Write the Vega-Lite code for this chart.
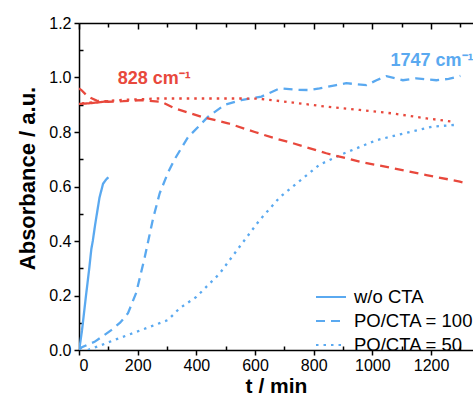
{
  "$schema": "https://vega.github.io/schema/vega-lite/v6.json",
  "width": 394,
  "height": 327,
  "autosize": "none",
  "padding": {"left": 79, "top": 23, "right": 0, "bottom": 46},
  "background": "white",
  "config": {
    "view": {"stroke": null},
    "font": "Liberation Sans",
    "axis": {"domainColor": "black", "tickColor": "black", "domainWidth": 1.5, "tickWidth": 1.5, "grid": false, "labelColor": "black", "titleColor": "black", "labelFont": "Liberation Sans", "titleFont": "Liberation Sans"}
  },
  "datasets": {
    "curves": [
      {"s": "w/o CTA", "b": "1747", "t": 0, "a": 0.0},
      {"s": "w/o CTA", "b": "1747", "t": 2, "a": 0.01},
      {"s": "w/o CTA", "b": "1747", "t": 10, "a": 0.07},
      {"s": "w/o CTA", "b": "1747", "t": 25, "a": 0.21},
      {"s": "w/o CTA", "b": "1747", "t": 35, "a": 0.30},
      {"s": "w/o CTA", "b": "1747", "t": 42, "a": 0.37},
      {"s": "w/o CTA", "b": "1747", "t": 47, "a": 0.40},
      {"s": "w/o CTA", "b": "1747", "t": 55, "a": 0.46},
      {"s": "w/o CTA", "b": "1747", "t": 70, "a": 0.56},
      {"s": "w/o CTA", "b": "1747", "t": 82, "a": 0.61},
      {"s": "w/o CTA", "b": "1747", "t": 92, "a": 0.625},
      {"s": "w/o CTA", "b": "1747", "t": 100, "a": 0.634},
      {"s": "PO/CTA = 100", "b": "1747", "t": 0, "a": 0.0},
      {"s": "PO/CTA = 100", "b": "1747", "t": 10, "a": 0.01},
      {"s": "PO/CTA = 100", "b": "1747", "t": 30, "a": 0.02},
      {"s": "PO/CTA = 100", "b": "1747", "t": 53, "a": 0.03},
      {"s": "PO/CTA = 100", "b": "1747", "t": 80, "a": 0.05},
      {"s": "PO/CTA = 100", "b": "1747", "t": 110, "a": 0.073},
      {"s": "PO/CTA = 100", "b": "1747", "t": 140, "a": 0.10},
      {"s": "PO/CTA = 100", "b": "1747", "t": 167, "a": 0.135},
      {"s": "PO/CTA = 100", "b": "1747", "t": 195, "a": 0.21},
      {"s": "PO/CTA = 100", "b": "1747", "t": 224, "a": 0.34},
      {"s": "PO/CTA = 100", "b": "1747", "t": 252, "a": 0.48},
      {"s": "PO/CTA = 100", "b": "1747", "t": 275, "a": 0.575},
      {"s": "PO/CTA = 100", "b": "1747", "t": 303, "a": 0.65},
      {"s": "PO/CTA = 100", "b": "1747", "t": 326, "a": 0.70},
      {"s": "PO/CTA = 100", "b": "1747", "t": 371, "a": 0.78},
      {"s": "PO/CTA = 100", "b": "1747", "t": 440, "a": 0.856},
      {"s": "PO/CTA = 100", "b": "1747", "t": 497, "a": 0.90},
      {"s": "PO/CTA = 100", "b": "1747", "t": 553, "a": 0.917},
      {"s": "PO/CTA = 100", "b": "1747", "t": 622, "a": 0.93},
      {"s": "PO/CTA = 100", "b": "1747", "t": 684, "a": 0.96},
      {"s": "PO/CTA = 100", "b": "1747", "t": 740, "a": 0.955},
      {"s": "PO/CTA = 100", "b": "1747", "t": 786, "a": 0.954},
      {"s": "PO/CTA = 100", "b": "1747", "t": 820, "a": 0.96},
      {"s": "PO/CTA = 100", "b": "1747", "t": 877, "a": 0.972},
      {"s": "PO/CTA = 100", "b": "1747", "t": 911, "a": 0.979},
      {"s": "PO/CTA = 100", "b": "1747", "t": 980, "a": 0.972},
      {"s": "PO/CTA = 100", "b": "1747", "t": 1014, "a": 0.99},
      {"s": "PO/CTA = 100", "b": "1747", "t": 1048, "a": 1.005},
      {"s": "PO/CTA = 100", "b": "1747", "t": 1104, "a": 0.99},
      {"s": "PO/CTA = 100", "b": "1747", "t": 1150, "a": 0.997},
      {"s": "PO/CTA = 100", "b": "1747", "t": 1218, "a": 0.99},
      {"s": "PO/CTA = 100", "b": "1747", "t": 1260, "a": 0.995},
      {"s": "PO/CTA = 100", "b": "1747", "t": 1300, "a": 1.006},
      {"s": "PO/CTA = 50", "b": "1747", "t": 30, "a": 0.0},
      {"s": "PO/CTA = 50", "b": "1747", "t": 76, "a": 0.018},
      {"s": "PO/CTA = 50", "b": "1747", "t": 121, "a": 0.037},
      {"s": "PO/CTA = 50", "b": "1747", "t": 212, "a": 0.073},
      {"s": "PO/CTA = 50", "b": "1747", "t": 303, "a": 0.11},
      {"s": "PO/CTA = 50", "b": "1747", "t": 343, "a": 0.153},
      {"s": "PO/CTA = 50", "b": "1747", "t": 400, "a": 0.195},
      {"s": "PO/CTA = 50", "b": "1747", "t": 479, "a": 0.28},
      {"s": "PO/CTA = 50", "b": "1747", "t": 548, "a": 0.38},
      {"s": "PO/CTA = 50", "b": "1747", "t": 616, "a": 0.477},
      {"s": "PO/CTA = 50", "b": "1747", "t": 684, "a": 0.56},
      {"s": "PO/CTA = 50", "b": "1747", "t": 729, "a": 0.60},
      {"s": "PO/CTA = 50", "b": "1747", "t": 820, "a": 0.68},
      {"s": "PO/CTA = 50", "b": "1747", "t": 900, "a": 0.72},
      {"s": "PO/CTA = 50", "b": "1747", "t": 1014, "a": 0.77},
      {"s": "PO/CTA = 50", "b": "1747", "t": 1127, "a": 0.80},
      {"s": "PO/CTA = 50", "b": "1747", "t": 1207, "a": 0.82},
      {"s": "PO/CTA = 50", "b": "1747", "t": 1281, "a": 0.826},
      {"s": "w/o CTA", "b": "828", "t": 0, "a": 0.903},
      {"s": "w/o CTA", "b": "828", "t": 30, "a": 0.905},
      {"s": "w/o CTA", "b": "828", "t": 60, "a": 0.908},
      {"s": "w/o CTA", "b": "828", "t": 100, "a": 0.913},
      {"s": "PO/CTA = 100", "b": "828", "t": 0, "a": 0.96},
      {"s": "PO/CTA = 100", "b": "828", "t": 8, "a": 0.954},
      {"s": "PO/CTA = 100", "b": "828", "t": 30, "a": 0.93},
      {"s": "PO/CTA = 100", "b": "828", "t": 60, "a": 0.915},
      {"s": "PO/CTA = 100", "b": "828", "t": 99, "a": 0.911},
      {"s": "PO/CTA = 100", "b": "828", "t": 150, "a": 0.913},
      {"s": "PO/CTA = 100", "b": "828", "t": 212, "a": 0.917},
      {"s": "PO/CTA = 100", "b": "828", "t": 281, "a": 0.911},
      {"s": "PO/CTA = 100", "b": "828", "t": 326, "a": 0.887},
      {"s": "PO/CTA = 100", "b": "828", "t": 417, "a": 0.856},
      {"s": "PO/CTA = 100", "b": "828", "t": 508, "a": 0.832},
      {"s": "PO/CTA = 100", "b": "828", "t": 599, "a": 0.80},
      {"s": "PO/CTA = 100", "b": "828", "t": 667, "a": 0.777},
      {"s": "PO/CTA = 100", "b": "828", "t": 729, "a": 0.759},
      {"s": "PO/CTA = 100", "b": "828", "t": 843, "a": 0.722},
      {"s": "PO/CTA = 100", "b": "828", "t": 957, "a": 0.691},
      {"s": "PO/CTA = 100", "b": "828", "t": 1070, "a": 0.667},
      {"s": "PO/CTA = 100", "b": "828", "t": 1184, "a": 0.642},
      {"s": "PO/CTA = 100", "b": "828", "t": 1298, "a": 0.618},
      {"s": "PO/CTA = 100", "b": "828", "t": 1320, "a": 0.612},
      {"s": "PO/CTA = 50", "b": "828", "t": 10, "a": 0.905},
      {"s": "PO/CTA = 50", "b": "828", "t": 60, "a": 0.91},
      {"s": "PO/CTA = 50", "b": "828", "t": 133, "a": 0.917},
      {"s": "PO/CTA = 50", "b": "828", "t": 268, "a": 0.923},
      {"s": "PO/CTA = 50", "b": "828", "t": 440, "a": 0.923},
      {"s": "PO/CTA = 50", "b": "828", "t": 553, "a": 0.923},
      {"s": "PO/CTA = 50", "b": "828", "t": 616, "a": 0.922},
      {"s": "PO/CTA = 50", "b": "828", "t": 729, "a": 0.908},
      {"s": "PO/CTA = 50", "b": "828", "t": 843, "a": 0.893},
      {"s": "PO/CTA = 50", "b": "828", "t": 957, "a": 0.881},
      {"s": "PO/CTA = 50", "b": "828", "t": 1070, "a": 0.868},
      {"s": "PO/CTA = 50", "b": "828", "t": 1184, "a": 0.85},
      {"s": "PO/CTA = 50", "b": "828", "t": 1281, "a": 0.837}
    ],
    "labels": [
      {"b": "828", "t": 132, "a": 0.995, "txt": "828 cm⁻¹"},
      {"b": "1747", "t": 1062, "a": 1.062, "txt": "1747 cm⁻¹"}
    ]
  },
  "resolve": {"axis": {"x": "independent", "y": "independent"}},
  "layer": [
    {
      "data": {"name": "curves"},
      "mark": {"type": "line", "strokeWidth": 2.3, "clip": true},
      "encoding": {
        "x": {"field": "t", "type": "quantitative", "scale": {"domain": [0, 1343], "nice": false, "zero": false},
          "axis": {"orient": "bottom", "values": [0, 200, 400, 600, 800, 1000, 1200], "format": "d", "tickSize": 5, "labelFontSize": 16, "labelPadding": 2, "title": "t / min", "titleFontSize": 21, "titleFontWeight": "bold", "titlePadding": 2}},
        "y": {"field": "a", "type": "quantitative", "scale": {"domain": [0, 1.2], "nice": false},
          "axis": {"orient": "left", "values": [0, 0.2, 0.4, 0.6, 0.8, 1.0, 1.2], "format": ".1f", "tickSize": 5, "labelFontSize": 16, "labelPadding": 3, "title": "Absorbance / a.u.", "titleFontSize": 22, "titleFontWeight": "bold", "titlePadding": 9, "titleY": 155}},
        "color": {"field": "b", "type": "nominal", "scale": {"domain": ["828", "1747"], "range": ["#e8483c", "#5aa9f0"]}, "legend": null},
        "strokeDash": {"field": "s", "type": "nominal", "scale": {"domain": ["w/o CTA", "PO/CTA = 100", "PO/CTA = 50"], "range": [[1, 0], [9, 6], [2.5, 5]]},
          "legend": {"title": null, "orient": "none", "legendX": 236, "legendY": 262, "symbolType": "stroke", "symbolStrokeColor": "#5aa9f0", "symbolStrokeWidth": 2, "symbolSize": 900, "labelFontSize": 18.5, "labelColor": "black", "labelFont": "Liberation Sans", "rowPadding": 0, "clipHeight": 24, "labelOffset": 7}}
      }
    },
    {
      "data": {"name": "curves"},
      "mark": {"type": "line", "opacity": 0},
      "encoding": {
        "x": {"field": "t", "type": "quantitative", "axis": {"orient": "bottom", "values": [100, 300, 500, 700, 900, 1100, 1300], "tickSize": -4, "labels": false, "domain": false, "title": null}},
        "y": {"field": "a", "type": "quantitative", "axis": {"orient": "left", "values": [0.1, 0.3, 0.5, 0.7, 0.9, 1.1], "tickSize": -4, "labels": false, "domain": false, "title": null}}
      }
    },
    {
      "data": {"name": "curves"},
      "mark": {"type": "line", "opacity": 0},
      "encoding": {
        "x": {"field": "t", "type": "quantitative", "axis": {"orient": "top", "values": [0, 200, 400, 600, 800, 1000, 1200], "tickSize": -6, "labels": false, "title": null}},
        "y": {"field": "a", "type": "quantitative", "axis": null}
      }
    },
    {
      "data": {"name": "curves"},
      "mark": {"type": "line", "opacity": 0},
      "encoding": {
        "x": {"field": "t", "type": "quantitative", "axis": {"orient": "top", "values": [100, 300, 500, 700, 900, 1100, 1300], "tickSize": -4, "labels": false, "domain": false, "title": null}},
        "y": {"field": "a", "type": "quantitative", "axis": null}
      }
    },
    {
      "data": {"name": "labels"},
      "mark": {"type": "text", "align": "left", "baseline": "middle", "fontSize": 18, "fontWeight": "bold", "font": "Liberation Sans"},
      "encoding": {
        "x": {"field": "t", "type": "quantitative", "axis": null},
        "y": {"field": "a", "type": "quantitative", "axis": null},
        "text": {"field": "txt"},
        "color": {"field": "b", "type": "nominal", "legend": null}
      }
    }
  ]
}
